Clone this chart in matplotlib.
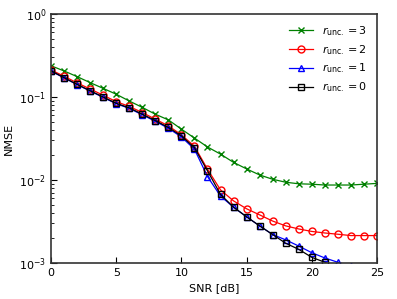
import matplotlib
matplotlib.use("Agg")
import matplotlib.pyplot as plt
import numpy as np

snr = list(range(0, 26))

nmse_r3 = [0.238, 0.206, 0.176, 0.149, 0.127, 0.108, 0.0895, 0.075, 0.062, 0.053, 0.041, 0.032,
           0.025, 0.0205, 0.0163, 0.0136, 0.0115, 0.0102, 0.0094, 0.0090, 0.0089, 0.0087, 0.0087,
           0.0087, 0.0089, 0.0091]
nmse_r2 = [0.212, 0.178, 0.148, 0.125, 0.105, 0.088, 0.077, 0.065, 0.054, 0.045, 0.035, 0.0255,
           0.0135, 0.0076, 0.0056, 0.0045, 0.0038, 0.0032, 0.0028, 0.00257, 0.0024, 0.0023, 0.00222,
           0.00214, 0.00214, 0.00214]
nmse_r1 = [0.205, 0.170, 0.141, 0.118, 0.099, 0.083, 0.073, 0.061, 0.051, 0.042, 0.033, 0.0235,
           0.011, 0.0064, 0.0047, 0.0036, 0.0028, 0.0022, 0.0019, 0.0016, 0.00133, 0.00115, 0.00102,
           0.00092, 0.00085, 0.00080]
nmse_r0 = [0.207, 0.171, 0.142, 0.119, 0.100, 0.084, 0.074, 0.062, 0.052, 0.043, 0.034, 0.0245,
           0.0129, 0.0067, 0.0047, 0.0036, 0.0028, 0.0022, 0.00173, 0.00146, 0.00117, 0.00102, 0.00088,
           0.00078, 0.00070, 0.00063]

labels = [r"$r_{\mathrm{unc.}} = 3$", r"$r_{\mathrm{unc.}} = 2$",
          r"$r_{\mathrm{unc.}} = 1$", r"$r_{\mathrm{unc.}} = 0$"]

fig = plt.figure(figsize=(3.97, 2.99), dpi=100)
ax = fig.add_axes([51/397, 1 - 263/299, (377-51)/397, (263-14)/299])

ax.plot(snr, nmse_r3, color="green", marker="x", ms=5, mfc="none", lw=0.9, label=labels[0])
ax.plot(snr, nmse_r2, color="red", marker="o", ms=5, mfc="none", lw=0.9, label=labels[1])
ax.plot(snr, nmse_r1, color="blue", marker="^", ms=5, mfc="none", lw=0.9, label=labels[2])
ax.plot(snr, nmse_r0, color="black", marker="s", ms=5, mfc="none", lw=0.9, label=labels[3])

ax.set_yscale("log")
ax.set_xlim(0, 25)
ax.set_ylim(1e-3, 1)
ax.set_xticks([0, 5, 10, 15, 20, 25])
ax.set_xlabel("SNR [dB]", fontsize=8)
ax.set_ylabel("NMSE", fontsize=8)
ax.tick_params(axis="both", which="both", direction="in", labelsize=8, top=False, right=False)
ax.tick_params(axis="both", which="major", length=4)
ax.tick_params(axis="y", which="minor", length=2)
for s in ax.spines.values():
    s.set_color("#333333")
    s.set_linewidth(1.2)

ax.legend(loc="upper right", frameon=False, fontsize=8, handlelength=2.2, labelspacing=0.45)

fig.savefig("out.png", dpi=100)
